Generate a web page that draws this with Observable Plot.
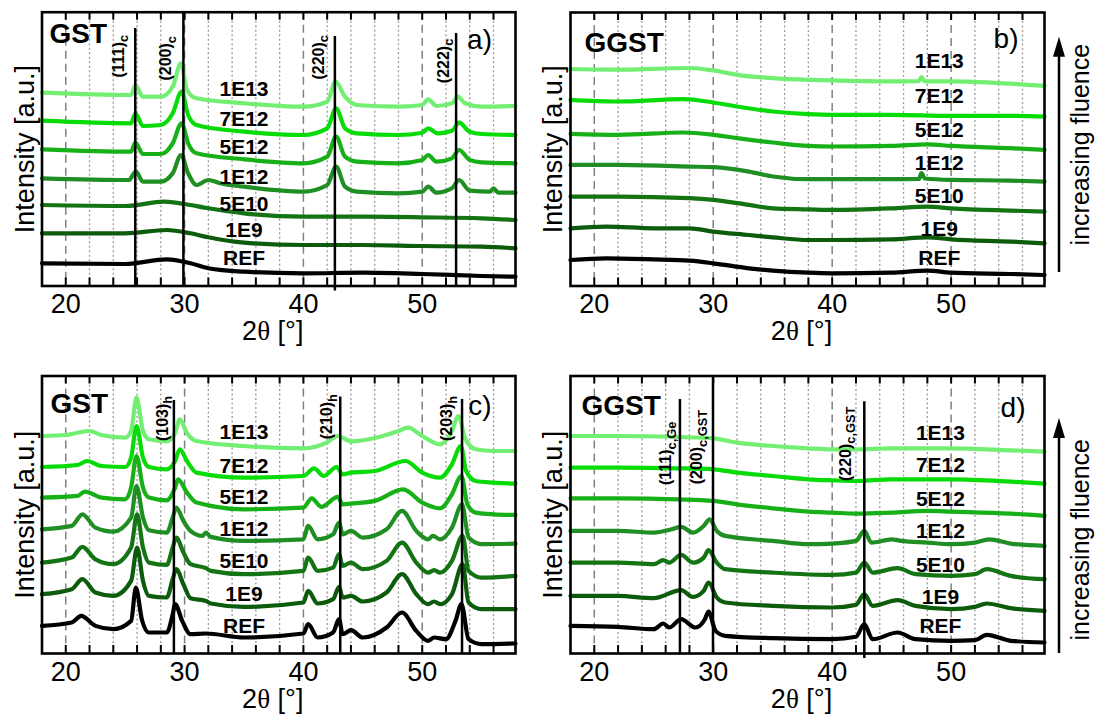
<!DOCTYPE html>
<html><head><meta charset="utf-8">
<script src="https://cdn.jsdelivr.net/npm/d3@7"></script>
<script src="https://cdn.jsdelivr.net/npm/@observablehq/plot@0.6"></script>
<style>
body{margin:0;background:#fff;}
#fig{position:relative;width:1099px;height:717px;overflow:hidden;background:#fff;}
</style></head><body><div id="fig"></div>
<script>
// ---------- shared ----------
const series = ["REF","1E9","5E10","1E12","5E12","7E12","1E13"];
const seriesColors = ["#000000","#0c5c0c","#147414","#1f8f24","#17b017","#08dc08","#72ef72"];
const xDomain = [18, 57.85];
const majorTicks = [20, 30, 40, 50];
const minorGrid = [22,24,26,28,32,34,36,38,42,44,46,48,52,54,56];
const tickMarks = [20,22,24,26,28,30,32,34,36,38,40,42,44,46,48,50,52,54,56];

// ---------- panel a: GST, cubic ----------
const tracesA = [
 [[18,22.7],[25,22],[28.5,26.7],[30.5,22.7],[32,17.7],[35,14.3],[40,12.7],[45,13.3],[50,12],[55,10],[57.85,9.3]],
 [[18,52.7],[25,52.7],[28.5,56],[30.5,52.7],[32,48.7],[35,43.3],[40,41],[45,41],[50,40],[55,39.3],[57.85,37.7]],
 [[18,81],[25,80],[28.3,84.3],[30,82],[32,77.7],[35,72.7],[40,69.3],[45,69.3],[50,68.7],[55,67.7],[57.85,66]],
 [[18,107.7],[25.3,106],[25.9,114.3],[26.5,104.3],[28,104.3],[29,112.7],[29.7,131],[30.3,112.7],[31,101],[32,106],[33,102.7],[35,99.3],[40,94.3],[42,101],[42.75,119.3],[43.5,99.3],[44.5,94.3],[48,92.7],[50,94.3],[50.5,99.3],[51.2,93.3],[52.5,97.7],[53.1,106],[54,95.3],[55.7,94.3],[56,97.7],[56.4,93.3],[57.85,93.3]],
 [[18,136.7],[25.5,134.3],[25.85,143.3],[26.5,132],[28,132],[29,142.7],[29.75,162.7],[30.3,142.7],[31,132.7],[35,126.7],[40,122.7],[42,129.3],[42.75,149.3],[43.5,129.3],[44.5,124.3],[48,122.7],[50,126],[50.5,131],[51.2,124.3],[52.5,127.7],[53.1,136],[54,126],[55,123.7],[57.85,122.7]],
 [[18,165.3],[25.5,162.7],[25.85,172.7],[26.5,160],[28,161],[29,172.7],[29.75,194.3],[30.3,171],[31,161],[35,154.3],[40,151],[42,157.7],[42.75,177.7],[43.5,157.7],[44.5,152.7],[48,151],[50,153.3],[50.5,157.7],[51.3,152.7],[52.5,155.3],[53.1,163.3],[54,154.3],[55,152],[57.85,151]],
 [[18,193.3],[25.5,191],[25.85,201],[26.5,189.3],[28,189.3],[29,199.3],[29.7,222.7],[30.2,196],[31,187.7],[35,182.7],[40,179.3],[42,184.3],[42.7,204.3],[43.5,189.3],[44.5,181],[48,179.3],[50,181],[50.5,186.7],[51.2,180],[52.5,182.7],[53,189.3],[53.6,182.7],[55,179.3],[57.85,180]]
];
const labelXA = 35;
const labelYA = [27.7,55.3,82,108.7,138.3,167,196.7];
const peakLinesA = [{x:25.85,y1:0,y2:257.5},{x:29.9,y1:0,y2:273.8},{x:42.65,y1:-5,y2:249.5},{x:52.85,y1:0,y2:252.5}];
const peakLabelsA = [{t:"(111)_c",x:24.45,y:208.5},{t:"(200)_c",x:28.45,y:205.5},{t:"(220)_c",x:41.3,y:206.5},{t:"(222)_c",x:51.78,y:202.8}];

// ---------- panel b: GGST, as deposited ----------
const tracesB = [
 [[18,26],[21,27.7],[25,26.7],[28,25.3],[30,22.7],[33,17.7],[35,15.4],[38,13.3],[40,12.7],[45,13.3],[48,15.4],[50,13.3],[55,12],[57.85,11]],
 [[18,57.7],[21,59.4],[25,57.7],[28,57.7],[30,54.4],[33,51],[35,48.7],[38,46],[40,46],[45,46.7],[48,48.7],[50,46.7],[55,44.4],[57.85,42.7]],
 [[18,89.4],[22,89.4],[28,87.8],[30,86.1],[33,81.1],[35,77.7],[38,76.7],[40,76.1],[45,77.7],[48,79.4],[50,77.7],[55,75.4],[57.85,74.4]],
 [[18,121.1],[22,121.1],[28,119.4],[30,118.8],[33,114.4],[35,109.5],[38,106.8],[40,106.8],[45,106.8],[47.3,107],[47.5,112.8],[47.8,107.5],[50,106.1],[55,105.4],[57.85,104.4]],
 [[18,152.2],[22,151.2],[27.5,153.5],[30,151.2],[32,147.8],[35,143.5],[38,140.1],[40,139.5],[45,140.1],[48,141.6],[50,140.1],[55,137.8],[57.85,136.2]],
 [[18,186.2],[22,184.5],[27.5,186.9],[30,183.5],[32,179.5],[35,174.5],[38,171.8],[40,171.2],[45,171.2],[50,170.2],[55,170.2],[57.85,169.5]],
 [[18,217],[22,216.3],[28,218],[30,215.6],[32,211.2],[35,207.9],[38,206.2],[40,205.6],[45,204.6],[47.3,204.9],[47.5,209],[47.8,204.6],[50,204.6],[55,202.3],[57.85,200.2]]
];
const labelXB = 49;
const labelYB = [27.7,56.7,89.4,122.8,155.5,190.2,224.6];

// ---------- panel c: GST, hexagonal ----------
const tracesC = [
 [[18,27.6],[20.5,31],[21.3,37.6],[22.5,27.6],[24,24.3],[25.5,32.6],[25.9,66],[26.4,34.3],[27,21],[28.5,21],[29,39],[29.2,49.3],[29.8,32.6],[30.5,19.3],[31.8,20],[35,16],[40,20],[40.4,29.3],[41.2,16],[42.5,21],[43,34.3],[43.3,19.3],[44,23.3],[45,16],[47,26],[48.3,41],[49.5,22.6],[50.5,12.7],[51,16],[52,14.3],[52.8,32.6],[53.3,49.3],[53.9,14.3],[55,9.3],[57.85,10]],
 [[18,59.3],[20.5,64.3],[21.4,74.3],[22.5,61],[24,57.6],[25.5,72.6],[26,105.9],[26.5,72.6],[27,57.6],[28.5,56],[29,74.3],[29.3,84.3],[29.9,69.3],[30.5,55.3],[31.8,52.6],[32.2,50],[35,46.6],[40,51],[40.4,62.6],[41.2,50],[42.5,54.3],[43,66.6],[43.3,56],[44,57.6],[45,52],[47,61],[48.3,79.3],[49.5,59.3],[50.5,49.3],[51,52],[51.5,49.3],[52.5,59.3],[53.4,89.3],[53.9,51],[55,44.3],[57.85,44.3]],
 [[18,90.9],[20.5,95.9],[21.4,106.6],[22.5,94.2],[24,89.3],[25.5,105.9],[26,139.2],[26.5,105.9],[27,90.9],[28.5,88.6],[29,105.9],[29.3,115.9],[29.9,100.9],[30.5,89.3],[31.8,85.3],[32.2,82.6],[35,79.3],[40,82.6],[40.4,95.9],[41.2,82.6],[42.5,85.9],[43,99.3],[43.3,87.6],[44,90.9],[45,84.3],[47,92.6],[48.3,110.9],[49.5,90.9],[50.5,80.9],[51,83.3],[51.5,80.9],[52.5,92.6],[53.4,117.6],[53.9,82.6],[55,75.9],[57.85,77.6]],
 [[18,124.2],[20.5,127.6],[21.4,139.2],[22.5,125.9],[24,121.9],[25.5,135.9],[25.95,167.5],[26.5,135.9],[27,123.2],[28.5,120.9],[29,135.9],[29.3,145.9],[29.9,132.6],[30.5,122.6],[31.5,117.6],[31.8,120.9],[32.2,116.6],[35,112.6],[40,114.2],[40.4,127.6],[41.2,114.2],[42.5,119.2],[43,130.9],[43.3,119.2],[44,122.6],[45,115.9],[47,124.2],[48.3,142.6],[49.5,122.6],[50.5,114.2],[50.9,117.6],[51.5,114.2],[52.5,125.9],[53.35,149.2],[53.9,115.9],[55,109.3],[57.85,109.9]],
 [[18,155.9],[21,157.6],[21.6,161.9],[23,155.9],[25,154.2],[25.5,165.9],[25.95,197.5],[26.5,165.9],[27,155.9],[28.5,153.2],[29.2,165.9],[29.45,174.2],[30.2,160.9],[31,150.9],[35,144.2],[40,145.9],[40.7,155.2],[41.5,146.6],[42.9,156.6],[43.3,149.2],[44,149.9],[46,152.6],[48.4,164.2],[50,150.9],[51.5,145.2],[52.5,159.2],[53.3,177.5],[53.8,149.2],[54.5,140.9],[56,139.2],[57.85,138.6]],
 [[18,186.5],[21,188.5],[21.8,192.5],[23,187.5],[25,186.5],[25.5,195.9],[25.95,227.5],[26.5,195.9],[27,186.5],[28.5,184.2],[29.2,192.5],[29.6,204.2],[30.2,192.5],[31,180.9],[35,175.9],[40,177.5],[40.9,185.2],[41.7,177.5],[42.8,186.5],[43.3,179.2],[44,180.9],[46,182.5],[48.6,192.5],[50,180.9],[51.5,175.9],[52.5,189.2],[53.25,207.5],[53.7,182.5],[54.5,172.5],[56,170.9],[57.85,169.9]],
 [[18,217.5],[20,218.5],[21,220.8],[22,222.5],[23,218.5],[25,215.8],[25.5,222.5],[25.95,255.8],[26.5,222.5],[27,214.2],[28.5,212.2],[29.2,220.5],[29.6,234.2],[30.2,220.5],[31,212.5],[35,207.5],[40,205.2],[42,211.2],[42.9,217.5],[44,212.2],[46,215.5],[48,222.5],[48.8,225.8],[50,217.5],[51.5,209.2],[52.5,222.5],[53.05,237.5],[53.6,215.5],[54.5,204.2],[56,202.5],[57.85,202.5]]
];
const labelXC = 35;
const labelYC = [27.6,59.3,92.6,124.2,155.9,187.5,220.8];
const peakLinesC = [{x:29.1,y1:0,y2:253},{x:43.1,y1:0,y2:256.5},{x:53.35,y1:0,y2:254}];
const peakLabelsC = [{t:"(103)_h",x:28.15,y:212.5},{t:"(210)_h",x:42.0,y:214.2},{t:"(203)_h",x:52.08,y:212.5}];

// ---------- panel d: GGST, annealed ----------
const tracesD = [
 [[18,27.6],[22,26.6],[25,24.3],[25.8,30],[26.3,26],[27.3,34.3],[28.5,26],[29.3,34.3],[29.6,42],[30.2,22.6],[31,17.7],[35,15.3],[40,14.3],[42,16.7],[42.7,29.3],[43.4,14.3],[45.5,21],[47,14.3],[50,12.7],[52,13.3],[53,18.7],[55,12.7],[57.85,11]],
 [[18,57.6],[22,57.6],[25,55.3],[27.3,63.3],[28.3,56.6],[29.2,62.6],[29.6,71],[30.3,56],[31,51],[35,47.6],[40,46],[42,48.6],[42.7,59.3],[43.4,47.6],[45.5,53.3],[47,47.6],[50,44.3],[52,46.6],[53,50],[55,45.3],[57.85,42.6]],
 [[18,90.9],[22,90.9],[25,89.3],[25.8,93.3],[26.3,90.9],[27.3,98.6],[28.3,90.9],[29.2,95.9],[29.6,103.3],[30.3,90.9],[31,84.3],[35,80.9],[40,78.6],[42,80.9],[42.7,90.9],[43.4,80.9],[45.5,85.3],[47,79.3],[50,77.6],[52,79.3],[53,84.3],[55,77.6],[57.85,74.3]],
 [[18,122.6],[22,122.6],[25,120.9],[26.5,124.2],[27.3,126.6],[28.3,120.9],[29.2,127.6],[29.7,134.2],[30.3,122.6],[31,117.6],[35,112.6],[38,109.3],[40,109.9],[42,112.6],[42.7,122.6],[43.3,110.9],[45,114.2],[45.8,112.6],[48,110.9],[50,109.3],[52,110.9],[53.2,114.2],[55,109.9],[57.85,107.6]],
 [[18,155.2],[22,155.2],[27,154.2],[30,152.6],[32,149.2],[35,145.2],[38,141.9],[40,140.9],[42,139.9],[45,140.9],[48,142.6],[50,141.9],[55,139.9],[57.85,137.6]],
 [[18,185.9],[22,185.9],[27,185.2],[30,184.2],[32,180.9],[35,177.5],[38,174.2],[40,173.2],[42,172.5],[45,174.2],[50,174.2],[55,171.9],[57.85,169.9]],
 [[18,217.5],[22,217.5],[27,216.5],[30,215.2],[32,210.9],[35,207.5],[38,205.2],[40,204.2],[42,204.2],[45,205.2],[48,205.2],[50,205.2],[55,203.2],[57.85,201.9]]
];
const labelXD = 49.1;
const labelYD = [27.6,56,88.6,121.9,154.2,188.5,219.8];
const peakLinesD = [{x:27.2,y1:0,y2:254},{x:29.98,y1:0,y2:277.5},{x:42.7,y1:-5,y2:251.8}];
const peakLabelsD = [{t:"(111)_c,Ge",x:26.06,y:168.5},{t:"(200)_c,GST",x:28.66,y:169.2},{t:"(220)_c,GST",x:41.12,y:172.5}];

// ---------- layout (pixels) ----------
const FONT = "Liberation Sans, Arial, Helvetica, sans-serif";
const panels = [
 {traces:tracesA, lx:labelXA, ly:labelYA, lines:peakLinesA, plabels:peakLabelsA, title:"GST", letter:"a)",
  left:0, top:0, width:545, height:345, ml:41.5, mr:30, mt:11.7, mb:59.5, tdx:7.5, tdy:11, ldx:-23.5, ldy:16.5, arrow:null},
 {traces:tracesB, lx:labelXB, ly:labelYB, lines:[], plabels:[], title:"GGST", letter:"b)",
  left:528, top:0, width:572, height:345, ml:42, mr:56, mt:12, mb:59.5, tdx:14, tdy:20, ldx:-26, ldy:16, arrow:{top:36.7, bottom:272, textDy:-4.6}},
 {traces:tracesC, lx:labelXC, ly:labelYC, lines:peakLinesC, plabels:peakLabelsC, title:"GST", letter:"c)",
  left:0, top:362, width:545, height:355, ml:41.5, mr:30, mt:13.5, mb:64, tdx:8.5, tdy:17.5, ldx:-24, ldy:19.5, arrow:null},
 {traces:tracesD, lx:labelXD, ly:labelYD, lines:peakLinesD, plabels:peakLabelsD, title:"GGST", letter:"d)",
  left:528, top:362, width:572, height:355, ml:42, mr:56, mt:13.5, mb:64, tdx:11, tdy:19.5, ldx:-19, ldy:21, arrow:{top:56, bottom:291, textDy:25}}
];

function richText(svg){
  d3.select(svg).selectAll("text").each(function(){
    const t = this.textContent;
    const sel = d3.select(this);
    if (t.includes("_")) {
      const [a,b] = t.split("_");
      sel.text(a);
      sel.append("tspan").attr("dy","0.35em").attr("font-size","0.8em").text(b);
    } else if (t.includes("θ")) {
      const [a,b] = t.split("θ");
      sel.text("");
      sel.append("tspan").text(a);
      sel.append("tspan").attr("font-family","Liberation Serif, DejaVu Serif, Times New Roman, serif").text("θ");
      sel.append("tspan").text(b);
    }
  });
}

const fig = document.getElementById("fig");
for (const p of panels) {
  const innerH = p.height - p.mt - p.mb;
  const innerW = p.width - p.ml - p.mr;
  const rows = series.flatMap((s,i) => p.traces[i].map(([x,y]) => ({s, x, y})));
  const labels = series.map((s,i) => ({s, x:p.lx, y:p.ly[i]}));
  const marks = [
    Plot.ruleX(minorGrid, {stroke:"#9a9a9a", strokeWidth:1.3, strokeDasharray:"2,2.5"}),
    Plot.ruleX(majorTicks, {stroke:"#808080", strokeWidth:1.5, strokeDasharray:"8,5"}),
    Plot.line(rows, {x:"x", y:"y", z:"s", stroke:"s", strokeWidth:4.2, curve:"monotone-x"}),
    Plot.ruleX(p.lines, {x:"x", y1:"y1", y2:"y2", stroke:"black", strokeWidth:2.5}),
    Plot.text(p.plabels, {x:"x", y:"y", text:"t", rotate:-90, textAnchor:"start", fontWeight:"bold", fontSize:16, fill:"black"}),
    Plot.text(labels, {x:"x", y:"y", text:"s", fontWeight:"bold", fontSize:21, fill:"black"}),
    Plot.ruleX(tickMarks, {stroke:"black", strokeWidth:2, insetTop: innerH - 8}),
    Plot.ruleX(tickMarks, {stroke:"black", strokeWidth:2, insetBottom: innerH - 8}),
    Plot.frame({stroke:"black", strokeWidth:2.6}),
    Plot.axisX(majorTicks, {tickSize:0, tickPadding:8, fontSize:27, label:null}),
    Plot.text(["2θ [°]"], {text:d=>d, frameAnchor:"bottom", lineAnchor:"top", textAnchor:"middle", dy:35, dx:-6, fontSize:27, fill:"black"}),
    Plot.text(["Intensity [a.u.]"], {text:d=>d, frameAnchor:"left", rotate:-90, textAnchor:"middle", dx:-17, fontSize:27, fill:"black"}),
    Plot.text([p.title], {text:d=>d, frameAnchor:"top-left", textAnchor:"start", lineAnchor:"top", dx:p.tdx, dy:p.tdy, fontWeight:"bold", fontSize:28, fill:"black"}),
    Plot.text([p.letter], {text:d=>d, frameAnchor:"top-right", textAnchor:"end", lineAnchor:"top", dx:p.ldx, dy:p.ldy, fontSize:28, fill:"black"})
  ];
  if (p.arrow) {
    marks.push(Plot.text(["increasing fluence"], {text:d=>d, frameAnchor:"right", rotate:-90, textAnchor:"middle", dx:36, dy:p.arrow.textDy, fontSize:25, fill:"black"}));
  }
  const svg = Plot.plot({
    width:p.width, height:p.height,
    marginLeft:p.ml, marginRight:p.mr, marginTop:p.mt, marginBottom:p.mb,
    x:{domain:xDomain},
    y:{domain:[0, innerH], axis:null},
    color:{domain:series, range:seriesColors},
    style:{fontFamily:FONT, background:"transparent", overflow:"visible", color:"black"},
    marks
  });
  richText(svg);
  if (p.arrow) {
    const ax = p.ml + innerW + 15;
    const s = d3.select(svg);
    s.append("line").attr("x1",ax).attr("x2",ax).attr("y1",p.arrow.bottom).attr("y2",p.arrow.top+14)
      .attr("stroke","black").attr("stroke-width",2.5);
    s.append("path").attr("d",`M${ax},${p.arrow.top}L${ax-6},${p.arrow.top+20}L${ax+6},${p.arrow.top+20}Z`).attr("fill","black");
  }
  svg.style.position = "absolute";
  svg.style.left = p.left + "px";
  svg.style.top = p.top + "px";
  svg.style.maxWidth = "none";
  fig.appendChild(svg);
}
</script>
</body></html>
